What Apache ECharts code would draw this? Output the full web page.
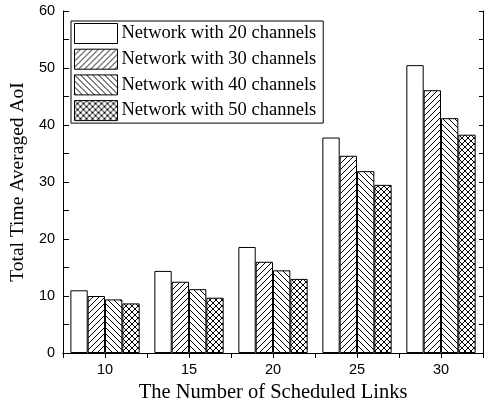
<!DOCTYPE html>
<html>
<head>
<meta charset="utf-8">
<script src="https://cdn.jsdelivr.net/npm/echarts@6/dist/echarts.min.js"></script>
<style>
  html, body { margin: 0; padding: 0; background: #fff; }
  #chart { width: 487px; height: 408px; }
</style>
</head>
<body>
<div id="chart"></div>
<script>
// Scheduled links (x categories)
const categories = ['10', '15', '20', '25', '30'];
// Total time averaged AoI per network size
const ch20 = [11.0, 14.4, 18.6, 37.8, 50.5];
const ch30 = [10.0, 12.5, 16.0, 34.6, 46.1];
const ch40 = [9.4, 11.2, 14.5, 31.9, 41.2];
const ch50 = [8.7, 9.7, 13.0, 29.5, 38.3];
const seriesNames = ['Network with 20 channels', 'Network with 30 channels',
                     'Network with 40 channels', 'Network with 50 channels'];

// Hatch fills drawn on small repeating canvases
function hatch(kind) {
  const s = 6;
  const c = document.createElement('canvas');
  c.width = s; c.height = s;
  const g = c.getContext('2d');
  g.fillStyle = '#fff';
  g.fillRect(0, 0, s, s);
  g.strokeStyle = '#000';
  g.lineWidth = 1;
  const fwd = () => {
    g.beginPath();
    g.moveTo(-1, s + 1); g.lineTo(s + 1, -1);
    g.moveTo(-1, 1); g.lineTo(1, -1);
    g.moveTo(s - 1, s + 1); g.lineTo(s + 1, s - 1);
    g.stroke();
  };
  const back = () => {
    g.beginPath();
    g.moveTo(-1, -1); g.lineTo(s + 1, s + 1);
    g.moveTo(s - 1, -1); g.lineTo(s + 1, 1);
    g.moveTo(-1, s - 1); g.lineTo(1, s + 1);
    g.stroke();
  };
  if (kind === 'fwd') fwd();
  if (kind === 'back') back();
  if (kind === 'cross') { fwd(); back(); }
  return { image: c, repeat: 'repeat' };
}

const fills = ['#ffffff', hatch('fwd'), hatch('back'), hatch('cross')];
const values = [ch20, ch30, ch40, ch50];

const chart = echarts.init(document.getElementById('chart'), null, { renderer: 'canvas' });

const series = values.map((v, i) => ({
  name: seriesNames[i],
  type: 'bar',
  data: v,
  barGap: '0%',
  barCategoryGap: '17.5%',
  itemStyle: { color: fills[i], borderColor: '#000', borderWidth: 1 },
  emphasis: { disabled: true }
}));

chart.setOption({
  animation: false,
  backgroundColor: '#fff',
  grid: { left: 61, right: 4, top: 11, bottom: 55, containLabel: false },
  legend: {
    left: 71, top: 21,
    orient: 'vertical',
    icon: 'rect',
    itemWidth: 43, itemHeight: 20, itemGap: 4.7,
    padding: [2, 7, 2, 3],
    borderColor: '#000', borderWidth: 1,
    backgroundColor: '#fff',
    itemStyle: { borderColor: '#000', borderWidth: 1 },
    textStyle: { fontFamily: 'Liberation Serif', fontSize: 18.5, lineHeight: 20, color: '#000', padding: [0, 0, 0, -1] },
    data: seriesNames,
    selectedMode: false
  },
  xAxis: [
    {
      type: 'category',
      data: categories,
      position: 'bottom',
      axisLine: { lineStyle: { color: '#000', width: 1 } },
      axisTick: { inside: true, length: 3, lineStyle: { color: '#000' } },
      axisLabel: { color: '#000', fontFamily: 'Liberation Sans', fontSize: 14.5, margin: 9 },
      name: 'The Number of Scheduled Links',
      nameLocation: 'middle',
      nameGap: 29,
      nameTextStyle: { fontFamily: 'Liberation Serif', fontSize: 20.5, color: '#000' }
    },
    {
      type: 'value',
      position: 'top',
      min: 0, max: 10, interval: 1,
      axisLine: { show: true, lineStyle: { color: '#000', width: 1 } },
      axisTick: { show: true, inside: true, length: 5, lineStyle: { color: '#000' } },
      axisLabel: { show: false },
      splitLine: { show: false }
    }
  ],
  yAxis: [
    {
      type: 'value',
      min: 0, max: 60, interval: 5,
      position: 'left',
      axisLine: { show: true, lineStyle: { color: '#000', width: 1 } },
      axisTick: { show: true, inside: true, length: 6, lineStyle: { color: '#000' } },
      axisLabel: {
        color: '#000', fontFamily: 'Liberation Sans', fontSize: 14.5, margin: 8,
        formatter: v => (v % 10 === 0 ? String(v) : '')
      },
      splitLine: { show: false },
      name: 'Total Time Averaged AoI',
      nameLocation: 'middle',
      nameGap: 29,
      nameTextStyle: { fontFamily: 'Liberation Serif', fontSize: 19.5, color: '#000' }
    },
    {
      type: 'value',
      min: 0, max: 60, interval: 5,
      position: 'right',
      axisLine: { show: true, lineStyle: { color: '#000', width: 1 } },
      axisTick: { show: true, inside: true, length: 4, lineStyle: { color: '#000' } },
      axisLabel: { show: false },
      splitLine: { show: false }
    }
  ],
  series
});
</script>
</body>
</html>
